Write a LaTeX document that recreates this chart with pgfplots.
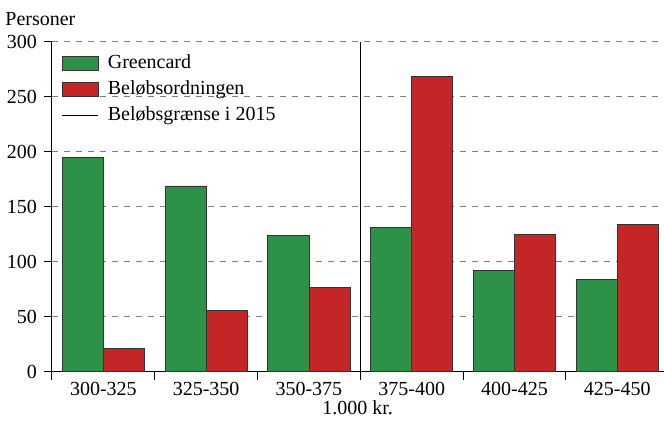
\documentclass[border=0pt]{standalone}
\usepackage{fontspec}
\setmainfont{Liberation Serif}
\usepackage{pgfplots}
\pgfplotsset{compat=1.18}
\definecolor{gc}{RGB}{46,145,72}
\definecolor{bo}{RGB}{196,38,40}
\pgfplotsset{
  barleg/.style={legend image code/.code={\draw[##1] (0pt,-3.5pt) rectangle (18pt,3.5pt);}},
  lineleg/.style={legend image code/.code={\draw[##1] (0pt,0pt) -- (18pt,0pt);}},
}
\begin{document}
\fontsize{10}{12}\selectfont
\begin{tikzpicture}
\begin{axis}[
  scale only axis, width=306pt, height=165pt,
  xmin=-0.5, xmax=5.45, ymin=0, ymax=300,
  axis x line*=bottom, axis y line*=left,
  ytick={0,50,...,300},
  ymajorgrids, grid style={gray, dashed, line width=0.5pt},
  tick align=outside, major tick length=4pt,
  tick style={black, line width=0.5pt},
  axis line style={black, line width=0.5pt},
  xtick={-0.5,0.5,...,4.5}, xticklabels={},
  extra x ticks={0,1,2,3,4,5},
  extra x tick labels={300-325,325-350,350-375,375-400,400-425,425-450},
  extra x tick style={grid=none, major tick length=0pt, xticklabel style={yshift=-1.5pt}},
  xlabel={1.000 kr.}, xlabel style={yshift=8pt},
  ylabel={Personer},
  ylabel style={rotate=-90, at={(rel axis cs:0,1)}, anchor=base west, xshift=-23.5pt, yshift=8pt, inner sep=0pt},
  /pgf/number format/assume math mode=true,
  ticklabel style={font=\fontsize{10}{12}\selectfont},
  legend cell align=left,
  legend style={draw=none, fill=none, at={(rel axis cs:0.012,0.98)}, anchor=north west,
    font=\fontsize{10}{12}\selectfont, row sep=0.5pt, inner sep=1pt,
    /tikz/every odd column/.append style={column sep=2.5pt}},
]
\addplot[ybar, bar width=0.4, bar shift=-0.2, fill=gc, draw=black!80, line width=0.4pt, barleg]
  coordinates {(0,195) (1,169) (2,124) (3,131) (4,92) (5,84)};
\addlegendentry{Greencard}
\addplot[ybar, bar width=0.4, bar shift=0.2, fill=bo, draw=black!80, line width=0.4pt, barleg]
  coordinates {(0,21) (1,56) (2,77) (3,269) (4,125) (5,134)};
\addlegendentry{Beløbsordningen}
\addplot[sharp plot, black, line width=0.6pt, mark=none, lineleg]
  coordinates {(2.5,0) (2.5,300)};
\addlegendentry{Beløbsgrænse i 2015}
\end{axis}
\path ([xshift=-26pt,yshift=21pt]current axis.north west) ([yshift=-25.5pt]current axis.south east);
\end{tikzpicture}
\end{document}
